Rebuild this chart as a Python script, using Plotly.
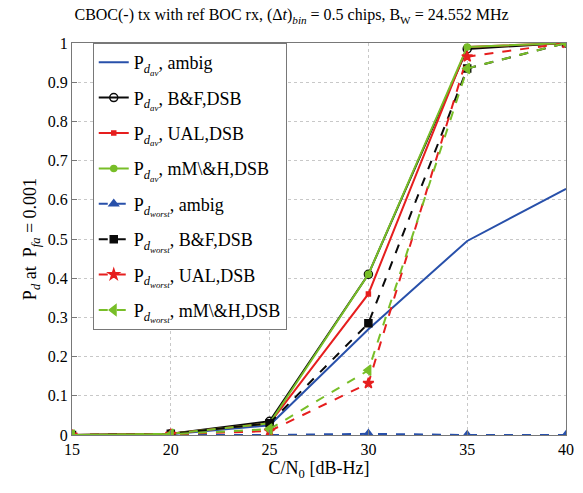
import plotly.graph_objects as go

# C/N0 values in dB-Hz
cn0 = [15, 20, 25, 30, 35, 40]

# Average detection probability
pd_av_ambig = [0.0, 0.002, 0.025, 0.27, 0.495, 0.628]
pd_av_bf = [0.0, 0.003, 0.035, 0.41, 0.985, 1.0]
pd_av_ual = [0.0, 0.003, 0.03, 0.36, 0.99, 1.0]
pd_av_mmh = [0.0, 0.003, 0.03, 0.41, 0.99, 1.0]

# Worst-case detection probability
pd_worst_ambig = [0.0, 0.0, 0.0, 0.003, 0.0, 0.0]
pd_worst_bf = [0.0, 0.003, 0.03, 0.285, 0.935, 1.0]
pd_worst_ual = [0.0, 0.002, 0.01, 0.132, 0.965, 1.0]
pd_worst_mmh = [0.0, 0.002, 0.015, 0.165, 0.935, 1.0]

BLUE = "rgb(40,80,170)"
BLACK = "rgb(10,10,10)"
RED = "rgb(230,30,30)"
GREEN = "rgb(120,190,40)"

AV = "P<sub><i>d</i><sub><i>av</i></sub></sub>"
WORST = "P<sub><i>d</i><sub><i>worst</i></sub></sub>"

series = [
    (pd_av_ambig, AV + ", ambig", BLUE, "solid", None, None),
    (pd_av_bf, AV + ", B&amp;F,DSB", BLACK, "solid", "circle-open", 8),
    (pd_av_ual, AV + ", UAL,DSB", RED, "solid", "square", 4),
    (pd_av_mmh, AV + ", mM\\&amp;H,DSB", GREEN, "solid", "circle", 6),
    (pd_worst_ambig, WORST + ", ambig", BLUE, "dash", "triangle-up", 8),
    (pd_worst_bf, WORST + ", B&amp;F,DSB", BLACK, "dash", "square", 7),
    (pd_worst_ual, WORST + ", UAL,DSB", RED, "dash", "star", 8),
    (pd_worst_mmh, WORST + ", mM\\&amp;H,DSB", GREEN, "dash", "triangle-left", 9),
]

fig = go.Figure()
for i, (y, name, color, dash, symbol, size) in enumerate(series):
    mode = "lines" if symbol is None else "lines+markers"
    marker = dict(color=color, symbol=symbol, size=size,
                  line=dict(color=color, width=1.5)) if symbol else None
    fig.add_trace(go.Scatter(
        x=cn0, y=y, name=name, mode=mode, legendgroup=f"g{i}",
        line=dict(color=color, width=2, dash=dash),
        marker=marker,
    ))

axis_common = dict(
    showgrid=True, gridcolor="rgb(200,200,200)", griddash="dot", gridwidth=1,
    showline=True, linecolor="rgb(120,120,120)", linewidth=1, mirror=True,
    ticks="inside", ticklen=5, tickcolor="rgb(120,120,120)",
    zeroline=False,
    tickfont=dict(size=16, color="black", family="Liberation Serif"),
)

fig.update_layout(
    width=583, height=493,
    margin=dict(l=72, r=9, t=43, b=58),
    paper_bgcolor="white", plot_bgcolor="white",
    font=dict(family="Liberation Serif", color="black"),
    title=dict(
        text="CBOC(-) tx with ref BOC rx, (\u0394<i>t</i>)<sub><i>bin</i></sub> = 0.5 chips, B<sub>W</sub> = 24.552 MHz",
        x=0.5, xanchor="center", y=0.97, yanchor="middle",
        font=dict(size=16, family="Liberation Serif"),
    ),
    xaxis=dict(
        range=[15, 40], tickvals=cn0, **axis_common,
        title=dict(text="C/N<sub>0</sub> [dB-Hz]", font=dict(size=18), standoff=2),
    ),
    yaxis=dict(
        range=[0, 1], tickvals=[i / 10 for i in range(11)],
        ticktext=["0"] + [f"{i/10:g}" for i in range(1, 10)] + ["1"],
        **axis_common,
        title=dict(text="P<sub><i>d</i></sub> at  P<sub><i>fa</i></sub> = 0.001", font=dict(size=18), standoff=6),
    ),
    legend=dict(
        x=0.042, y=1.0, xanchor="left", yanchor="top",
        bgcolor="white", bordercolor="rgb(120,120,120)", borderwidth=1,
        font=dict(size=18, family="Liberation Serif"),
        tracegroupgap=9,
    ),
)

fig.write_html("out.html")
